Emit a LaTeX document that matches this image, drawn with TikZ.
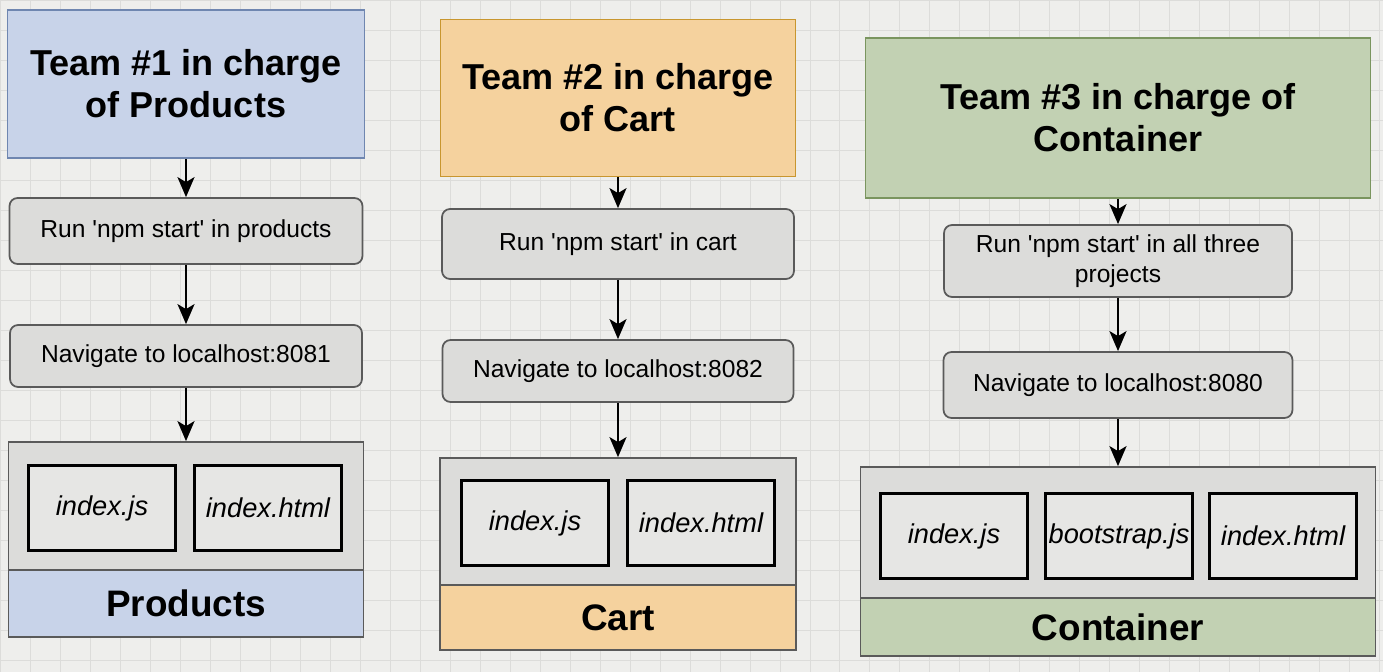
\documentclass[tikz,border=0pt]{standalone}
\usepackage{fontspec}
\setmainfont{Liberation Sans}
\usetikzlibrary{arrows.meta}
\definecolor{paper}{HTML}{EEEEEC}
\definecolor{gridgrey}{HTML}{DCDCDA}
\definecolor{boxgrey}{HTML}{DCDCDA}
\definecolor{filegrey}{HTML}{E6E6E4}
\definecolor{edgegrey}{HTML}{5A5A5A}
\definecolor{blueA}{HTML}{C8D3E9}
\definecolor{blueB}{HTML}{6F86B0}
\definecolor{orangeA}{HTML}{F5D29E}
\definecolor{orangeB}{HTML}{C8962F}
\definecolor{greenA}{HTML}{C2D1B3}
\definecolor{greenB}{HTML}{7A955F}

\begin{document}
\begin{tikzpicture}[x=0.02cm,y=-0.02cm]
	%
	% `team' is the coloured heading box of each column.
	% `task' is used for the rounded grey step boxes.
	% `bundle' and `caption' make up the app box at the bottom.
	\tikzstyle{team} = [draw,line width=1pt,minimum height=3cm,align=center,inner sep=0pt,font=\fontsize{20.5}{24}\selectfont\bfseries]
	\tikzstyle{task} = [draw=edgegrey,fill=boxgrey,line width=1pt,rounded corners=0.16cm,align=center,inner sep=0pt,font=\fontsize{14}{17}\selectfont]
	\tikzstyle{filebox} = [draw,fill=filegrey,line width=1.4pt,minimum width=2.94cm,minimum height=1.7cm,inner sep=0pt,font=\fontsize{15.5}{18}\selectfont\itshape]
	\tikzstyle{bundle} = [draw=edgegrey,fill=boxgrey,line width=1pt,inner sep=0pt]
	\tikzstyle{caption} = [draw=edgegrey,line width=1pt,inner sep=0pt,font=\fontsize{21}{24}\selectfont\bfseries]
	\tikzstyle{flow} = [-{Stealth[length=0.4cm,width=0.34cm,inset=0.1cm]},line width=1.3pt]
	%
	% Screen
	\useasboundingbox (0,0) rectangle (1383,672);
	\fill[paper] (0,0) rectangle (1383,672);
	\draw[gridgrey,line width=0.4pt,step=0.6cm] (0,0) grid (1383,672);
	%
	% Column 1
	\node[team,fill=blueA,draw=blueB,minimum width=7.14cm,minimum height=2.96cm] (t1) at (186,84) {Team \#1 in charge\\of Products};
	\node[task,minimum width=7.06cm,minimum height=1.32cm] (r1) at (186,231) {Run \textquotesingle npm start\textquotesingle{} in products};
	\node[task,minimum width=7.04cm,minimum height=1.24cm] (n1) at (186,356) {Navigate to localhost:8081};
	\node[bundle,minimum width=7.1cm,minimum height=2.56cm] (c1) at (186,506) {};
	\node[caption,fill=blueA,minimum width=7.1cm,minimum height=1.34cm] (l1) at (186,603.5) {Products};
	\node[filebox] (js1) at (102,508) {index.js};
	\node[filebox] (html1) at (268,508) {index.html};
	\draw[flow] (t1) -- (r1);
	\draw[flow] (r1) -- (n1);
	\draw[flow] (n1) -- (c1);
	%
	% Column 2
	\node[team,fill=orangeA,draw=orangeB,minimum width=7.1cm,minimum height=3.14cm] (t2) at (618,98) {Team \#2 in charge\\of Cart};
	\node[task,minimum width=7.04cm,minimum height=1.4cm] (r2) at (618,244) {Run \textquotesingle npm start\textquotesingle{} in cart};
	\node[task,minimum width=7.02cm,minimum height=1.24cm] (n2) at (618,371) {Navigate to localhost:8082};
	\node[bundle,minimum width=7.12cm,minimum height=2.54cm] (c2) at (618,521.5) {};
	\node[caption,fill=orangeA,minimum width=7.12cm,minimum height=1.3cm] (l2) at (618,617.5) {Cart};
	\node[filebox] (js2) at (535,523) {index.js};
	\node[filebox] (html2) at (701,523) {index.html};
	\draw[flow] (t2) -- (r2);
	\draw[flow] (r2) -- (n2);
	\draw[flow] (n2) -- (c2);
	%
	% Column 3
	\node[team,fill=greenA,draw=greenB,minimum width=10.1cm,minimum height=3.2cm] (t3) at (1118,118) {Team \#3 in charge of\\Container};
	\node[task,minimum width=6.96cm,minimum height=1.44cm] (r3) at (1118,261) {Run \textquotesingle npm start\textquotesingle{} in all three\\projects};
	\node[task,minimum width=6.98cm,minimum height=1.32cm] (n3) at (1118,385) {Navigate to localhost:8080};
	\node[bundle,minimum width=10.3cm,minimum height=2.62cm] (c3) at (1118,532.5) {};
	\node[caption,fill=greenA,minimum width=10.3cm,minimum height=1.16cm] (l3) at (1118,627) {Container};
	\node[filebox] (js3) at (954,536) {index.js};
	\node[filebox] (boot3) at (1119,536) {bootstrap.js};
	\node[filebox] (html3) at (1283,536) {index.html};
	\draw[flow] (t3) -- (r3);
	\draw[flow] (r3) -- (n3);
	\draw[flow] (n3) -- (c3);
	%
\end{tikzpicture}
\end{document}
